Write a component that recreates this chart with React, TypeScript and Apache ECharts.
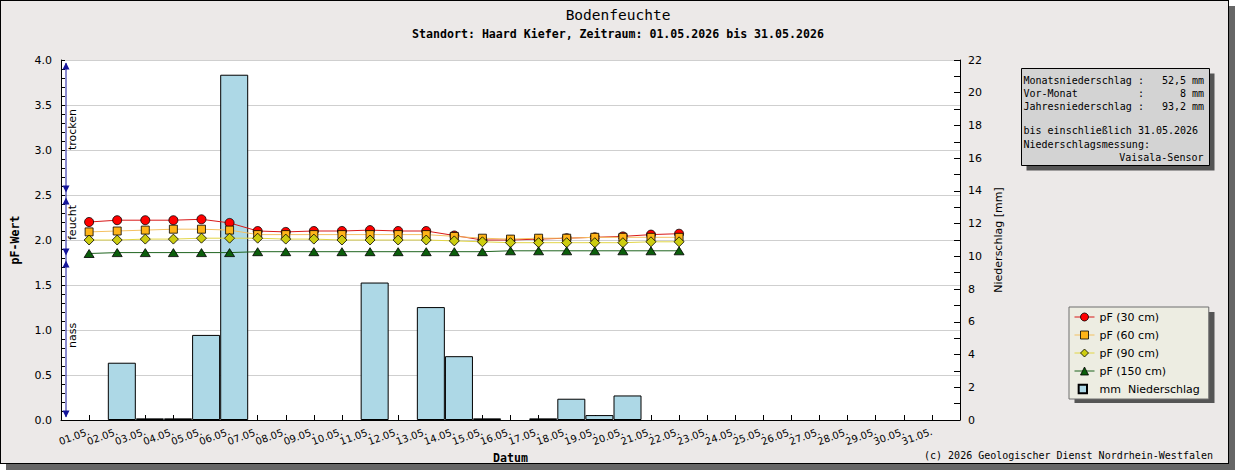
import React, { useEffect, useRef } from "react";
import * as echarts from "echarts";

// ---------- data ----------
const dayLabels = [
  "01.05.", "02.05.", "03.05.", "04.05.", "05.05.", "06.05.", "07.05.", "08.05.",
  "09.05.", "10.05.", "11.05.", "12.05.", "13.05.", "14.05.", "15.05.", "16.05.",
  "17.05.", "18.05.", "19.05.", "20.05.", "21.05.", "22.05.", "23.05.", "24.05.",
  "25.05.", "26.05.", "27.05.", "28.05.", "29.05.", "30.05.", "31.05.",
];
const pf30 = [2.20, 2.22, 2.22, 2.22, 2.23, 2.19, 2.10, 2.09, 2.10, 2.10, 2.11, 2.10, 2.10, 2.05, 2.00, 2.00, 2.01, 2.02, 2.03, 2.04, 2.06, 2.07];
const pf60 = [2.09, 2.10, 2.11, 2.12, 2.12, 2.11, 2.06, 2.06, 2.06, 2.06, 2.06, 2.06, 2.06, 2.04, 2.02, 2.01, 2.02, 2.02, 2.03, 2.03, 2.03, 2.03];
const pf90 = [2.00, 2.00, 2.01, 2.01, 2.02, 2.02, 2.02, 2.01, 2.01, 2.00, 2.00, 2.00, 2.00, 1.99, 1.98, 1.97, 1.97, 1.97, 1.97, 1.97, 1.98, 1.98];
const pf150 = [1.85, 1.86, 1.86, 1.86, 1.86, 1.86, 1.87, 1.87, 1.87, 1.87, 1.87, 1.87, 1.87, 1.87, 1.87, 1.88, 1.88, 1.88, 1.88, 1.88, 1.88, 1.88];
const precipMm = [0, 3.5, 0.1, 0.1, 5.2, 21.1, 0, 0, 0, 0, 8.4, 0, 6.9, 3.9, 0.1, 0, 0.1, 1.3, 0.3, 1.5, 0, 0, 0, 0, 0, 0, 0, 0, 0, 0, 0];
const pfSeriesNames = ["pF (30 cm)", "pF (60 cm)", "pF (90 cm)", "pF (150 cm)"];
const precipName = "mm  Niederschlag";
const pfAxis = { min: 0, max: 4, step: 0.5 };
const mmAxis = { min: 0, max: 22, step: 2 };
const dayAxis = { min: 0, max: 32, step: 1 };
const barShiftDays = 0.165;

const titleText = "Bodenfeuchte";
const subtitleText = "Standort: Haard Kiefer, Zeitraum: 01.05.2026 bis 31.05.2026";
const copyrightText = "(c) 2026 Geologischer Dienst Nordrhein-Westfalen";
const infoLabels = ["Monatsniederschlag", "Vor-Monat", "Jahresniederschlag"];
const infoValues = ["52,5", "8", "93,2"];
const infoNotes = ["bis einschließlich 31.05.2026", "Niederschlagsmessung:"];
const infoSensor = "Vaisala-Sensor";
const zoneBounds = [4.0, 2.5, 1.8, 0.0];
const zoneLabels = ["trocken", "feucht", "nass"];
const zoneLabelBase = [3.0, 2.0, 0.8];

// ---------- styles ----------
const pfStyles = [
  { symbol: "circle", size: 9, fill: "#ff0000", line: "#d81818" },
  { symbol: "rect", size: 8, fill: "#ffb419", line: "#f4c163" },
  { symbol: "diamond", size: 10, fill: "#cdcd10", line: "#e2d647" },
  { symbol: "triangle", size: [10, 8], fill: "#0b5e0b", line: "#1f641f" },
];
const SANS = "DejaVu Sans";
const MONO = "DejaVu Sans Mono";

export default function App() {
  const ref = useRef<HTMLDivElement>(null);

  useEffect(() => {
    document.body.style.margin = "0";
    const chart = echarts.init(ref.current as HTMLDivElement, null, { renderer: "svg" });

    const lineSeries = pfSeriesNames.map((name, s) => {
      const values = [pf30, pf60, pf90, pf150][s];
      const st = pfStyles[s];
      return {
        type: "line",
        name,
        xAxisIndex: 0,
        yAxisIndex: 0,
        data: values.map((v, i) => [i + 1, v]),
        symbol: st.symbol,
        symbolSize: st.size,
        showSymbol: true,
        lineStyle: { color: st.line, width: 1 },
        itemStyle: { color: st.fill, borderColor: "#000", borderWidth: 0.8 },
        emphasis: { disabled: true },
        z: 3 + s,
      };
    });

    const barData = precipMm
      .map((v, i) => [i + 1 + barShiftDays, v])
      .filter((d) => d[1] > 0);

    const option: any = {
      animation: false,
      backgroundColor: "transparent",
      grid: {
        left: 61,
        top: 60,
        width: 899,
        height: 360,
        show: true,
        backgroundColor: "#ffffff",
        borderWidth: 0,
        containLabel: false,
        outerBoundsMode: "none",
      },
      legend: {
        orient: "vertical",
        left: 1069,
        top: 307,
        padding: [4, 9, 4, 5],
        itemGap: 6,
        itemWidth: 20,
        itemHeight: 10,
        backgroundColor: "#ededE2",
        borderColor: "#6e6e6e",
        borderWidth: 1,
        borderRadius: 0,
        selectedMode: false,
        z: 10,
        textStyle: { fontFamily: SANS, fontSize: 11, color: "#000", lineHeight: 12 },
        data: [
          ...pfSeriesNames.map((n, s) => ({
            name: n,
            lineStyle: { color: pfStyles[s].line, width: 1 },
            itemStyle: { color: pfStyles[s].fill, borderColor: "#000", borderWidth: 0.8 },
          })),
          { name: precipName, icon: "path://M0,0L0,0M20,12L20,12M3,1L13,1L13,11L3,11Z" },
        ],
      },
      xAxis: {
        type: "value",
        min: dayAxis.min,
        max: dayAxis.max,
        interval: dayAxis.step,
        name: "Datum",
        nameLocation: "middle",
        nameGap: 32,
        nameMoveOverlap: false,
        nameTextStyle: { fontFamily: MONO, fontWeight: "bold", fontSize: 11.6, color: "#000" },
        axisLine: { show: true, onZero: false, lineStyle: { color: "#000", width: 1 } },
        axisTick: { show: true, inside: true, length: 5, lineStyle: { color: "#000" } },
        splitLine: { show: false },
        axisLabel: {
          rotate: 20,
          margin: 11,
          fontFamily: SANS,
          fontSize: 10,
          color: "#000",
          hideOverlap: false,
          formatter: (v: number) => (v >= 1 && v <= dayLabels.length ? dayLabels[v - 1] : ""),
        },
      },
      yAxis: [
        {
          type: "value",
          position: "left",
          min: pfAxis.min,
          max: pfAxis.max,
          interval: pfAxis.step,
          name: "pF-Wert",
          nameLocation: "middle",
          nameRotate: 90,
          nameGap: 40,
          nameTextStyle: { fontFamily: MONO, fontWeight: "bold", fontSize: 11.6, color: "#000" },
          axisLine: { show: true, lineStyle: { color: "#000", width: 1 } },
          axisTick: { show: true, inside: true, length: 4, lineStyle: { color: "#000" } },
          minorTick: { show: true, splitNumber: 5, length: 4, lineStyle: { color: "#000" } },
          splitLine: { show: true, lineStyle: { color: "#cfcfcf", width: 1 } },
          axisLabel: {
            margin: 9,
            fontFamily: SANS,
            fontSize: 11,
            color: "#000",
            formatter: (v: number) => v.toFixed(1),
          },
        },
        {
          type: "value",
          position: "right",
          min: mmAxis.min,
          max: mmAxis.max,
          interval: mmAxis.step,
          name: "Niederschlag [mm]",
          nameLocation: "middle",
          nameRotate: 90,
          nameGap: 31,
          nameTextStyle: { fontFamily: SANS, fontSize: 11, color: "#000" },
          axisLine: { show: true, lineStyle: { color: "#000", width: 1 } },
          axisTick: { show: true, inside: true, length: 6, lineStyle: { color: "#000" } },
          minorTick: { show: true, splitNumber: 2, length: 6, lineStyle: { color: "#000" } },
          splitLine: { show: false },
          axisLabel: { margin: 8, fontFamily: SANS, fontSize: 11, color: "#000" },
        },
      ],
      series: [
        {
          type: "bar",
          name: precipName,
          xAxisIndex: 0,
          yAxisIndex: 1,
          data: barData,
          barWidth: 28,
          itemStyle: { color: "#add8e6", borderColor: "#000", borderWidth: 1 },
          emphasis: { disabled: true },
          z: 2,
        },
        ...lineSeries,
      ],
    };

    chart.setOption(option);

    const yPx = (v: number) => chart.convertToPixel({ yAxisIndex: 0 }, v) as number;
    const xLeft = chart.convertToPixel({ xAxisIndex: 0 }, dayAxis.min) as number;
    const ax = xLeft + 5;
    const navy = "#14149a";

    const arrows: any[] = [];
    const tri = (tipY: number, up: boolean, id: string) => ({
      type: "polygon",
      id,
      z: 20,
      shape: {
        points: up
          ? [[ax, tipY], [ax - 3.5, tipY + 7], [ax + 3.5, tipY + 7]]
          : [[ax, tipY], [ax - 3.5, tipY - 7], [ax + 3.5, tipY - 7]],
      },
      style: { fill: navy },
    });
    for (let z = 0; z < zoneLabels.length; z++) {
      const yTop = yPx(zoneBounds[z]);
      const yBot = yPx(zoneBounds[z + 1]);
      arrows.push(tri(yTop + 2.5, true, "au" + z));
      arrows.push(tri(yBot - 2.5, false, "ad" + z));
      arrows.push({
        type: "text",
        id: "zl" + z,
        z: 20,
        x: ax + 6,
        y: yPx(zoneLabelBase[z]),
        rotation: Math.PI / 2,
        style: {
          text: zoneLabels[z],
          fontFamily: SANS,
          fontSize: 11,
          fill: "#000",
          textAlign: "left",
          textVerticalAlign: "middle",
          align: "left",
          verticalAlign: "middle",
        },
      });
    }

    const infoLines = infoLabels.map(
      (l, i) => `${l.padEnd(19)}:${infoValues[i].padStart(7)} mm`
    );
    const infoY = [80, 93.3, 106.7, 130.5, 144, 157.3];
    const infoTexts = [...infoLines, ...infoNotes].map((t, i) => ({
      type: "text",
      id: "info" + i,
      z: 22,
      x: 1023.5,
      y: infoY[i],
      style: {
        text: t,
        fontFamily: MONO,
        fontSize: 10,
        fill: "#000",
        textAlign: "left",
        textVerticalAlign: "middle",
        align: "left",
        verticalAlign: "middle",
      },
    }));

    const txt = (id: string, text: string, x: number, y: number, font: string, size: number, weight: string, align: string) => ({
      type: "text",
      id,
      z: 22,
      x,
      y,
      style: {
        text,
        fontFamily: font,
        fontSize: size,
        fontWeight: weight,
        fill: "#000",
        textAlign: align,
        textVerticalAlign: "middle",
        align,
        verticalAlign: "middle",
      },
    });

    chart.setOption({
      graphic: [
        txt("title", titleText, 618, 15, MONO, 14.5, "normal", "center"),
        txt("subtitle", subtitleText, 618, 34, MONO, 11.6, "bold", "center"),
        txt("copy", copyrightText, 1213, 455, MONO, 10, "normal", "right"),
        { type: "rect", id: "infoShadow", z: 20, shape: { x: 1026.5, y: 73.5, width: 188, height: 97 }, style: { fill: "#555" } },
        { type: "rect", id: "infoBox", z: 21, shape: { x: 1021.5, y: 68.5, width: 188, height: 97 }, style: { fill: "#d3d3d3", stroke: "#000", lineWidth: 1 } },
        ...infoTexts,
        txt("sensor", infoSensor, 1203.5, 157.3, MONO, 10, "normal", "right"),
        { type: "rect", id: "legShadow", z: 1, shape: { x: 1074.5, y: 312, width: 140, height: 91 }, style: { fill: "#555" } },
        {
          type: "line",
          id: "zoneLine",
          z: 19,
          shape: { x1: ax, y1: yPx(zoneBounds[0]) + 3, x2: ax, y2: yPx(zoneBounds[zoneBounds.length - 1]) - 3 },
          style: { stroke: navy, lineWidth: 1 },
        },
        ...arrows,
      ],
    });

    return () => chart.dispose();
  }, []);

  return (
    <div style={{ position: "relative", width: 1235, height: 470, overflow: "hidden" }}>
      <div style={{ position: "absolute", left: 6, top: 6, width: 1229, height: 464, background: "#666" }} />
      <div
        style={{
          position: "absolute",
          left: 0,
          top: 0,
          width: 1229,
          height: 464,
          background: "#ece9e8",
          border: "1px solid #000",
          boxSizing: "border-box",
        }}
      />
      <div ref={ref} style={{ position: "absolute", left: 0, top: 0, width: 1235, height: 470 }} />
    </div>
  );
}
